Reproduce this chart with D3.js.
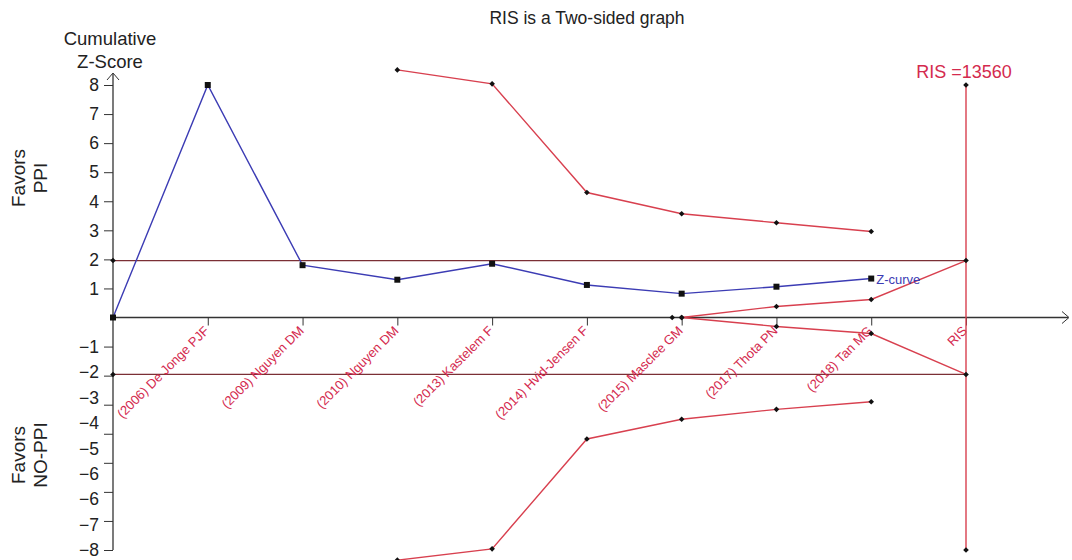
<!DOCTYPE html>
<html>
<head>
<meta charset="utf-8">
<script src="https://cdn.jsdelivr.net/npm/d3@7"></script>
<style>
  html, body { margin: 0; padding: 0; background: #fff; }
  svg { display: block; font-family: "Liberation Sans", Arial, sans-serif; }
</style>
</head>
<body>
<svg id="chart" width="1072" height="560"></svg>
<script>
// Trial positions along the information axis (0 = start, 9 = RIS)
const trialLabels = ["", "(2006) De Jonge PJF", "(2009) Nguyen DM", "(2010) Nguyen DM",
  "(2013) Kastelem F", "(2014) Hvid-Jensen F", "(2015) Masclee GM",
  "(2017) Thota PN", "(2018) Tan MG", "RIS"];

// Cumulative Z-curve
const zIndex = [0, 1, 2, 3, 4, 5, 6, 7, 8];
const zValues = [0, 8.0, 1.8, 1.3, 1.85, 1.12, 0.82, 1.06, 1.34];

// Trial sequential monitoring boundaries (benefit / harm)
const boundIndex = [3, 4, 5, 6, 7, 8];
const upperBound = [8.52, 8.04, 4.3, 3.57, 3.26, 2.96];
const lowerBound = [-8.35, -7.96, -4.18, -3.5, -3.16, -2.9];

// Futility (inner wedge) boundaries
const futIndex = [6, 7, 8, 9];
const futUpper = [0, 0.38, 0.62, 1.96];
const futLower = [0, -0.31, -0.55, -1.96];

// Conventional significance levels
const conventional = [1.96, -1.96];

// Axis ticks and their printed labels
const yTicks = [8, 7, 6, 5, 4, 3, 2, 1, -1, -2, -3, -4, -5, -6, -7, -8];
const upperTickLabels = ["8", "7", "6", "5", "4", "3", "2", "1"];
const lowerTickLabels = ["\u22121", "\u22122", "\u22123", "\u22124", "\u22125",
  "\u22126", "\u22126", "\u22127", "\u22128"];
const risIndex = 9;
const risLabel = "RIS =13560";

const svg = d3.select("#chart");
const x = d3.scaleLinear().domain([0, 9]).range([113, 966]);
const y = d3.scaleLinear().domain([-8, 8]).range([550, 85]);

const red = "#d8404f";
const labelRed = "#d42a4e";
const blue = "#3c3cb4";
const darkRed = "#7b2f35";
const axisCol = "#333";
const textCol = "#222";

// Title
svg.append("text").attr("x", 587).attr("y", 24).attr("text-anchor", "middle")
  .attr("font-size", 17.5).attr("fill", textCol).text("RIS is a Two-sided graph");

// Y axis title
svg.append("text").attr("x", 110).attr("y", 45).attr("text-anchor", "middle")
  .attr("font-size", 18.5).attr("fill", textCol).text("Cumulative");
svg.append("text").attr("x", 110).attr("y", 68).attr("text-anchor", "middle")
  .attr("font-size", 18.5).attr("fill", textCol).text("Z-Score");

// Side labels
function sideLabel(cy, lines) {
  const g = svg.append("g").attr("transform", `translate(0,${cy}) rotate(-90)`);
  lines.forEach((t, i) => {
    g.append("text").attr("x", 0).attr("y", 25 + i * 22).attr("text-anchor", "middle")
      .attr("font-size", 19).attr("fill", textCol).text(t);
  });
}
sideLabel(178, ["Favors", "PPI"]);
sideLabel(455, ["Favors", "NO-PPI"]);

// Conventional boundaries
svg.selectAll("line.conv").data(conventional).enter().append("line")
  .attr("x1", x(0)).attr("x2", x(risIndex))
  .attr("y1", d => y(d)).attr("y2", d => y(d))
  .attr("stroke", darkRed).attr("stroke-width", 1.3);

// Y axis: tick marks
const yAxis = d3.axisLeft(y).tickValues(yTicks).tickSize(9).tickFormat("");
const gy = svg.append("g").attr("transform", `translate(${x(0)},0)`).call(yAxis);
gy.select(".domain").remove();
gy.selectAll("line").attr("stroke", axisCol);
svg.append("line").attr("x1", x(0)).attr("x2", x(0)).attr("y1", y(-8)).attr("y2", 74)
  .attr("stroke", axisCol).attr("stroke-width", 1.3);
svg.append("path").attr("d", `M${x(0) - 6},${80} L${x(0)},${73} L${x(0) + 6},${80}`)
  .attr("fill", "none").attr("stroke", axisCol).attr("stroke-width", 1);

// Y axis: printed labels
const upperPos = d3.scalePoint().domain(d3.range(upperTickLabels.length)).range([y(8), y(1)]);
const lowerPos = d3.scalePoint().domain(d3.range(lowerTickLabels.length)).range([y(-1), y(-8)]);
function tickText(labels, pos) {
  labels.forEach((t, i) => {
    svg.append("text").attr("x", 99).attr("y", pos(i)).attr("dy", "0.36em")
      .attr("text-anchor", "end").attr("font-size", 17.5).attr("fill", textCol).text(t);
  });
}
tickText(upperTickLabels, upperPos);
tickText(lowerTickLabels, lowerPos);

// X axis
const xAxis = d3.axisBottom(x).tickValues(d3.range(1, 10)).tickSize(8).tickFormat("");
const gx = svg.append("g").attr("transform", `translate(0,${y(0)})`).call(xAxis);
gx.select(".domain").remove();
gx.selectAll("line").attr("stroke", axisCol);
svg.append("line").attr("x1", x(0)).attr("x2", 1068).attr("y1", y(0)).attr("y2", y(0))
  .attr("stroke", axisCol).attr("stroke-width", 1.3);
svg.append("path").attr("d", `M1062,${y(0) - 6} L1069,${y(0)} L1062,${y(0) + 6}`)
  .attr("fill", "none").attr("stroke", axisCol).attr("stroke-width", 1);

// Rotated trial labels
trialLabels.forEach((t, i) => {
  if (!t) return;
  svg.append("text")
    .attr("transform", `translate(${x(i) + 2},${y(0) + 14}) rotate(-45)`)
    .attr("text-anchor", "end").attr("font-size", 13).attr("fill", labelRed).text(t);
});

// Marker symbols
const diamond = d3.symbol().type(d3.symbolDiamond2).size(20);
const square = d3.symbol().type(d3.symbolSquare).size(36);
const line = d3.line().x(d => x(d[0])).y(d => y(d[1]));

function redPath(idx, vals) {
  const pts = idx.map((v, i) => [v, vals[i]]);
  svg.append("path").attr("d", line(pts)).attr("fill", "none")
    .attr("stroke", red).attr("stroke-width", 1.4);
  return pts;
}
const markerPts = [];
markerPts.push(...redPath(boundIndex, upperBound));
markerPts.push(...redPath(boundIndex, lowerBound));
markerPts.push(...redPath(futIndex, futUpper));
markerPts.push(...redPath(futIndex, futLower));

// RIS vertical line
svg.append("line").attr("x1", x(risIndex)).attr("x2", x(risIndex))
  .attr("y1", y(8)).attr("y2", y(-8)).attr("stroke", red).attr("stroke-width", 1.4);
markerPts.push([risIndex, 8], [risIndex, -8]);
markerPts.push([5.9, 0]);
conventional.forEach(c => markerPts.push([0, c]));

svg.selectAll("path.dm").data(markerPts).enter().append("path")
  .attr("d", diamond).attr("transform", d => `translate(${x(d[0])},${y(d[1])})`)
  .attr("fill", "#111");

// Z-curve
const zPts = zIndex.map((v, i) => [v, zValues[i]]);
svg.append("path").attr("d", line(zPts)).attr("fill", "none")
  .attr("stroke", blue).attr("stroke-width", 1.4);
svg.selectAll("path.sq").data(zPts).enter().append("path")
  .attr("d", square).attr("transform", d => `translate(${x(d[0])},${y(d[1])})`)
  .attr("fill", "#111");
svg.append("text").attr("x", x(8) + 5).attr("y", y(zValues[8]) + 5)
  .attr("font-size", 13).attr("fill", blue).text("Z-curve");

// RIS label
svg.append("text").attr("x", 964).attr("y", 78).attr("text-anchor", "middle")
  .attr("font-size", 18).attr("fill", labelRed).text(risLabel);
</script>
</body>
</html>
